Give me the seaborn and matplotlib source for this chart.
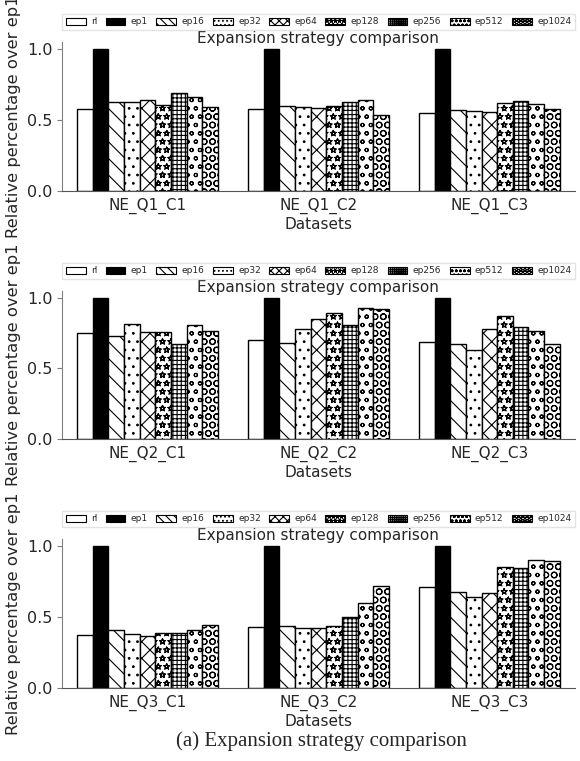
import pandas as pd
import seaborn as sns
import numpy as np
import matplotlib.pyplot as plt
import matplotlib.hatch
from matplotlib.patches import Patch

# Datos
strategies = ['rl', 'ep1', 'ep16', 'ep32', 'ep64', 'ep128', 'ep256', 'ep512', 'ep1024']
hatches = ['', '', '\\\\', '..', 'xx', '**', '++++', 'oo', 'OO']

datasets_q1 = ['NE_Q1_C1', 'NE_Q1_C2', 'NE_Q1_C3']
datasets_q2 = ['NE_Q2_C1', 'NE_Q2_C2', 'NE_Q2_C3']
datasets_q3 = ['NE_Q3_C1', 'NE_Q3_C2', 'NE_Q3_C3']

# una lista por estrategia, valores para C1, C2, C3
q1_vals = {
    'rl':     [0.58, 0.58, 0.55],
    'ep1':    [1.00, 1.00, 1.00],
    'ep16':   [0.63, 0.60, 0.57],
    'ep32':   [0.625, 0.59, 0.566],
    'ep64':   [0.643, 0.582, 0.556],
    'ep128':  [0.603, 0.60, 0.622],
    'ep256':  [0.692, 0.624, 0.632],
    'ep512':  [0.662, 0.638, 0.61],
    'ep1024': [0.594, 0.533, 0.575],
}
q2_vals = {
    'rl':     [0.75, 0.70, 0.688],
    'ep1':    [1.00, 1.00, 1.00],
    'ep16':   [0.728, 0.683, 0.672],
    'ep32':   [0.816, 0.778, 0.629],
    'ep64':   [0.757, 0.851, 0.778],
    'ep128':  [0.755, 0.891, 0.868],
    'ep256':  [0.674, 0.804, 0.792],
    'ep512':  [0.806, 0.927, 0.768],
    'ep1024': [0.764, 0.92, 0.672],
}
q3_vals = {
    'rl':     [0.373, 0.427, 0.709],
    'ep1':    [1.00, 1.00, 1.00],
    'ep16':   [0.406, 0.439, 0.676],
    'ep32':   [0.378, 0.42, 0.641],
    'ep64':   [0.368, 0.425, 0.669],
    'ep128':  [0.385, 0.435, 0.85],
    'ep256':  [0.385, 0.50, 0.845],
    'ep512':  [0.406, 0.596, 0.899],
    'ep1024': [0.441, 0.718, 0.893],
}

sns.set_style('ticks')
plt.rcParams['font.family'] = ['DejaVu Sans']
plt.rcParams['hatch.linewidth'] = 0.8
# estrellas huecas como en la original
matplotlib.hatch.Stars.filled = False

fig = plt.figure(figsize=(5.8, 7.61), dpi=100)

# posiciones de los tres paneles (left, bottom, width, height)
posiciones = [
    [0.107, 0.749, 0.884, 0.196],
    [0.107, 0.423, 0.884, 0.195],
    [0.107, 0.096, 0.884, 0.196],
]
paneles = [(datasets_q1, q1_vals), (datasets_q2, q2_vals), (datasets_q3, q3_vals)]

for pos, (dsets, vals) in zip(posiciones, paneles):
    ax = fig.add_axes(pos)
    filas = []
    for s in strategies:
        for d, v in zip(dsets, vals[s]):
            filas.append({'Datasets': d, 'strategy': s, 'value': v})
    df = pd.DataFrame(filas)

    sns.barplot(data=df, x='Datasets', y='value', hue='strategy',
                hue_order=strategies, order=dsets, width=0.824,
                errorbar=None, legend=False, ax=ax)

    for cont, s, h in zip(ax.containers, strategies, hatches):
        for p in cont.patches:
            p.set_facecolor('black' if s == 'ep1' else 'white')
            p.set_edgecolor('black')
            p.set_linewidth(1.0)
            p.set_hatch(h)

    handles = [Patch(facecolor='black' if s == 'ep1' else 'white',
                     edgecolor='black', hatch=h * 2 if h else h, linewidth=0.8)
               for s, h in zip(strategies, hatches)]
    ax.legend(handles, strategies, loc='lower left', ncol=9, mode='expand',
              bbox_to_anchor=(0.0, 1.08, 1.0, 0.1), borderaxespad=0,
              fontsize=6.5, handlelength=2.2, handleheight=0.8,
              columnspacing=0.8, handletextpad=0.6, frameon=True,
              fancybox=False, edgecolor='#dddddd')

    # el titulo se monta un poco sobre el borde superior del eje
    ax.set_title('Expansion strategy comparison', fontsize=11, y=1.0, pad=-1)
    ax.set_ylabel('Relative percentage over ep1', fontsize=11.8)
    ax.set_xlabel('Datasets', fontsize=11, labelpad=2)
    ax.set_yticks([0.0, 0.5, 1.0])
    ax.tick_params(axis='y', labelsize=11.5, length=3.5, color='#808080')
    ax.tick_params(axis='x', labelsize=11, length=0, pad=5)
    sns.despine(ax=ax)
    ax.spines['left'].set_color('#808080')
    ax.spines['bottom'].set_color('#555555')

fig.text(0.555, 1 - 741 / 761, '(a) Expansion strategy comparison',
         ha='center', va='center', fontsize=15, family=['Liberation Serif'])

fig.savefig('out.png', dpi=100)
